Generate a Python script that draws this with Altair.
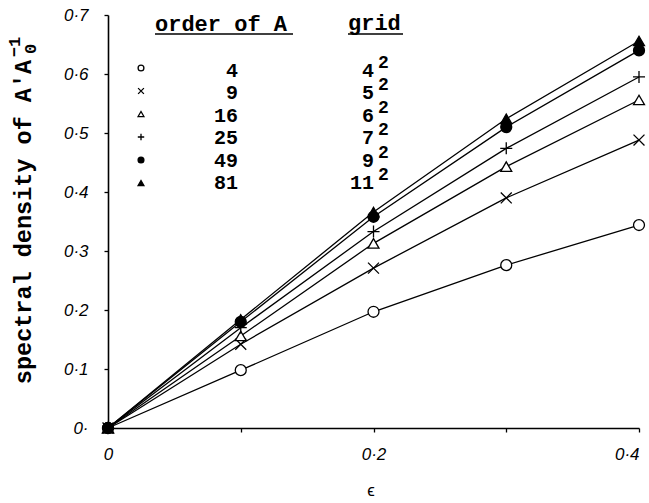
import altair as alt
import pandas as pd

# ---- data ----
eps = [0.0, 0.1, 0.2, 0.3, 0.4]
order = ["4", "9", "16", "25", "49", "81"]
grid_base = ["4", "5", "6", "7", "9", "11"]
s4 = [0.0, 0.098, 0.197, 0.276, 0.344]
s9 = [0.0, 0.142, 0.271, 0.390, 0.488]
s16 = [0.0, 0.156, 0.313, 0.443, 0.556]
s25 = [0.0, 0.170, 0.333, 0.474, 0.595]
s49 = [0.0, 0.180, 0.358, 0.510, 0.640]
s81 = [0.0, 0.184, 0.366, 0.524, 0.656]
series = [s4, s9, s16, s25, s49, s81]
x_ticks = [0.0, 0.1, 0.2, 0.3, 0.4]
y_ticks = [0.0, 0.1, 0.2, 0.3, 0.4, 0.5, 0.6, 0.7]

rows = []
for o, vals in zip(order, series):
    for e, v in zip(eps, vals):
        rows.append({"order": o, "eps": e, "sd": v})
df = pd.DataFrame(rows)
leg = pd.DataFrame({"order": order, "grid": grid_base, "idx": list(range(len(order)))})

# ---- styling ----
MONO = "Liberation Mono"
SANS = "Liberation Sans"
OX, OY = 108, 15  # plot origin inside the page (padding)
shape_paths = ["circle", "M-1,-1L1,1M-1,1L1,-1", "triangle-up",
               "M-1.1,0L1.1,0M0,-1.1L0,1.1", "circle", "triangle-up"]
fills = ["white", "transparent", "white", "transparent", "black", "black"]
shape_scale = alt.Scale(domain=order, range=shape_paths)
fill_scale = alt.Scale(domain=order, range=fills)
x_scale = alt.Scale(domain=[0, 0.4], nice=False, zero=False)
y_scale = alt.Scale(domain=[0, 0.7], nice=False)

x_axis = alt.Axis(
    values=x_ticks, title=None, grid=False,
    labelExpr="datum.value == 0 ? '0' : (abs(datum.value-0.2)<1e-6 || abs(datum.value-0.4)<1e-6) ? replace(format(datum.value, '.1f'), '.', '·') : ''",
    labelAlign={"condition": {"test": "datum.value > 0.39", "value": "right"}, "value": "center"},
    labelFont=SANS, labelFontStyle="italic", labelFontSize=17, labelColor="black",
    labelPadding=14, tickSize=4, tickColor="black", tickWidth=1.3,
    domainColor="black", domainWidth=1.6, labelFlush=False, labelOverlap=False,
    labelBound=False,
)
y_axis = alt.Axis(
    values=y_ticks, title=None, grid=False,
    labelExpr="datum.value == 0 ? '0·' : replace(format(datum.value, '.1f'), '.', '·')",
    labelFont=SANS, labelFontStyle="italic", labelFontSize=17, labelColor="black",
    labelPadding=16, tickSize=4, tickColor="black", tickWidth=1.3,
    domainColor="black", domainWidth=1.6, labelFlush=False, labelOverlap=False,
)

lines = alt.Chart(df).mark_line(color="black", strokeWidth=1.3).encode(
    x=alt.X("eps:Q", scale=x_scale, axis=x_axis),
    y=alt.Y("sd:Q", scale=y_scale, axis=y_axis),
    detail="order:N",
)

points = alt.Chart(df).mark_point(
    size=120, filled=True, stroke="black", strokeWidth=1.3, opacity=1, fillOpacity=1
).encode(
    x=alt.X("eps:Q", scale=x_scale, axis=None),
    y=alt.Y("sd:Q", scale=y_scale, axis=None),
    shape=alt.Shape("order:N", scale=shape_scale, legend=None),
    fill=alt.Fill("order:N", scale=fill_scale, legend=None),
)

# ---- custom legend (pixel positions relative to plot origin) ----
leg_base = alt.Chart(leg).transform_calculate(
    sy=f"{68 - OY} + 23 * datum.idx",
    ty=f"{71 - OY} + 22.4 * datum.idx",
    ty2=f"{63 - OY} + 22.4 * datum.idx",
)
leg_sym = leg_base.mark_point(
    size=34, filled=True, stroke="black", strokeWidth=1.3, opacity=1, fillOpacity=1
).encode(
    x=alt.value(141 - OX),
    y=alt.Y("sy:Q", scale=None, axis=None),
    shape=alt.Shape("order:N", scale=shape_scale, legend=None),
    fill=alt.Fill("order:N", scale=fill_scale, legend=None),
)
leg_order = leg_base.mark_text(
    align="right", baseline="middle", font=MONO, fontWeight="bold", fontSize=20, color="black"
).encode(x=alt.value(238 - OX), y=alt.Y("ty:Q", scale=None, axis=None), text="order:N")
leg_grid = leg_base.mark_text(
    align="right", baseline="middle", font=MONO, fontWeight="bold", fontSize=20, color="black"
).encode(x=alt.value(374 - OX), y=alt.Y("ty:Q", scale=None, axis=None), text="grid:N")
leg_sup = leg_base.mark_text(
    align="left", baseline="middle", font=MONO, fontWeight="bold", fontSize=18, color="black"
).encode(x=alt.value(378 - OX), y=alt.Y("ty2:Q", scale=None, axis=None), text=alt.value("2"))

headers = pd.DataFrame({"label": ["order of A", "grid"]})
hdr1 = alt.Chart(headers).transform_filter("datum.label == 'order of A'").mark_text(
    align="left", baseline="alphabetic", font=MONO, fontWeight="bold", fontSize=22, color="black"
).encode(x=alt.value(155 - OX), y=alt.value(31 - OY), text="label:N")
hdr2 = alt.Chart(headers).transform_filter("datum.label == 'grid'").mark_text(
    align="left", baseline="alphabetic", font=MONO, fontWeight="bold", fontSize=22, color="black"
).encode(x=alt.value(348 - OX), y=alt.value(30 - OY), text="label:N")
ul1 = alt.Chart(headers).transform_filter("datum.label == 'order of A'").mark_rule(
    color="black", strokeWidth=1.4
).encode(x=alt.value(155 - OX), x2=alt.value(293 - OX), y=alt.value(34 - OY))
ul2 = alt.Chart(headers).transform_filter("datum.label == 'grid'").mark_rule(
    color="black", strokeWidth=1.4
).encode(x=alt.value(348 - OX), x2=alt.value(403 - OX), y=alt.value(34 - OY))

# ---- axis titles as text ----
titles = pd.DataFrame({"t": ["spectral density of A'A", "0", "−1", "ϵ"]})
ytitle = alt.Chart(titles).transform_filter("datum.t == \"spectral density of A'A\"").mark_text(
    angle=270, align="center", baseline="middle", font=MONO, fontWeight="bold", fontSize=23.5, color="black"
).encode(x=alt.value(24 - OX), y=alt.value(222 - OY), text="t:N")
ysub = alt.Chart(titles).transform_filter("datum.t == '0'").mark_text(
    angle=270, align="center", baseline="middle", font=MONO, fontWeight="bold", fontSize=17, color="black"
).encode(x=alt.value(31 - OX), y=alt.value(49 - OY), text="t:N")
ysup = alt.Chart(titles).transform_filter("datum.t == '−1'").mark_text(
    angle=270, align="center", baseline="middle", font=MONO, fontWeight="bold", fontSize=17, color="black"
).encode(x=alt.value(15 - OX), y=alt.value(47 - OY), text="t:N")
xtitle = alt.Chart(titles).transform_filter("datum.t == 'ϵ'").mark_text(
    align="center", baseline="middle", font=SANS, fontSize=17, color="black"
).encode(x=alt.value(371 - OX), y=alt.value(491 - OY), text="t:N")

chart = alt.layer(
    lines, points, leg_sym, leg_order, leg_grid, leg_sup, hdr1, hdr2, ul1, ul2,
    ytitle, ysub, ysup, xtitle
).resolve_scale(x="independent", y="independent").properties(
    width=531, height=413,
    autosize=alt.AutoSizeParams(type="none"),
    padding={"left": OX, "top": OY, "right": 10, "bottom": 75},
).configure_view(stroke=None)

chart.save("out.html", embed_options={"renderer": "svg", "actions": False})
